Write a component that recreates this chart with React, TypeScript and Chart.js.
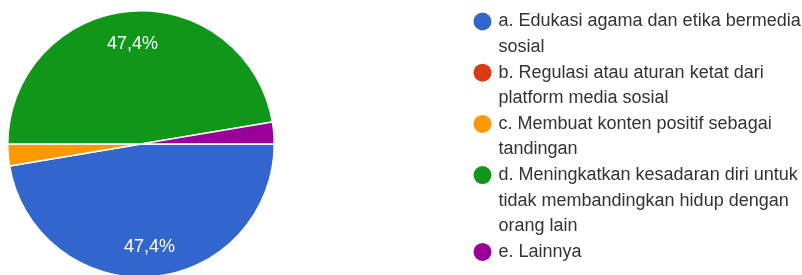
import React, { useEffect, useRef } from "react";
import { Chart, registerables } from "chart.js";

Chart.register(...registerables);

const categories = [
  "a. Edukasi agama dan etika bermedia sosial",
  "b. Regulasi atau aturan ketat dari platform media sosial",
  "c. Membuat konten positif sebagai tandingan",
  "d. Meningkatkan kesadaran diri untuk tidak membandingkan hidup dengan orang lain",
  "e. Lainnya",
];
const responses = [18, 0, 1, 18, 1];
const colors = ["#3366cc", "#dc3912", "#ff9900", "#109618", "#990099"];

const FONT = '"Liberation Sans", Arial, sans-serif';

function wrap(ctx: CanvasRenderingContext2D, text: string, maxW: number): string[] {
  const words = text.split(" ");
  const lines: string[] = [];
  let cur = "";
  for (const w of words) {
    const t = cur ? cur + " " + w : w;
    if (ctx.measureText(t).width > maxW && cur) {
      lines.push(cur);
      cur = w;
    } else cur = t;
  }
  if (cur) lines.push(cur);
  return lines;
}

const pieLabels = {
  id: "pieLabels",
  afterDatasetsDraw(chart: any) {
    const ctx = chart.ctx;
    const meta = chart.getDatasetMeta(0);
    const data = chart.data.datasets[0].data as number[];
    const total = data.reduce((a, b) => a + b, 0);
    ctx.save();
    ctx.fillStyle = "#ffffff";
    ctx.font = `18px ${FONT}`;
    ctx.textAlign = "center";
    ctx.textBaseline = "middle";
    meta.data.forEach((arc: any, i: number) => {
      const pct = (data[i] / total) * 100;
      if (pct < 5) return;
      const mid = (arc.startAngle + arc.endAngle) / 2;
      const r = arc.outerRadius * 0.765;
      const x = arc.x + Math.cos(mid) * r;
      const y = arc.y + Math.sin(mid) * r + 1.5;
      ctx.fillText(pct.toFixed(1).replace(".", ",") + "%", x, y);
    });
    ctx.restore();
  },
};

const customLegend = {
  id: "customLegend",
  afterDraw(chart: any) {
    const ctx = chart.ctx;
    ctx.save();
    ctx.font = `18px ${FONT}`;
    ctx.textBaseline = "middle";
    const pitch = 25.6;
    const top = 21.5;
    let line = 0;
    categories.forEach((label, i) => {
      const y0 = top + line * pitch;
      ctx.fillStyle = colors[i];
      ctx.beginPath();
      ctx.arc(482.5, y0, 9, 0, Math.PI * 2);
      ctx.fill();
      ctx.fillStyle = "#333333";
      const lines = wrap(ctx, label, 305);
      lines.forEach((t) => {
        ctx.fillText(t, 498.5, top + line * pitch);
        line++;
      });
    });
    ctx.restore();
  },
};

export default function App() {
  const ref = useRef<HTMLCanvasElement>(null);
  useEffect(() => {
    document.body.style.margin = "0";
    const chart = new Chart(ref.current!, {
      type: "pie",
      data: {
        labels: categories,
        datasets: [
          {
            data: responses,
            backgroundColor: colors,
            borderColor: "#ffffff",
            borderWidth: 1.5,
          },
        ],
      },
      options: {
        animation: false,
        responsive: false,
        rotation: 90,
        layout: { padding: { top: 10, left: 7, right: 527, bottom: 12 } },
        plugins: {
          legend: { display: false },
          tooltip: { enabled: false },
        },
      },
      plugins: [pieLabels, customLegend],
    });
    return () => chart.destroy();
  }, []);
  return (
    <div style={{ width: 802, height: 275, overflow: "hidden", background: "#fff" }}>
      <canvas ref={ref} width={802} height={290} style={{ display: "block" }} />
    </div>
  );
}
